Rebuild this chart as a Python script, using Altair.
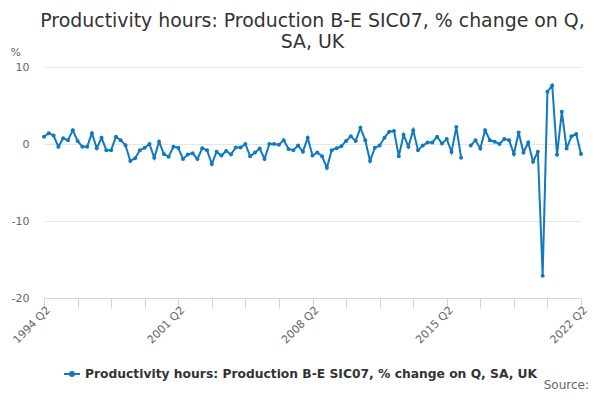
#%%
import pandas as pd
import altair as alt

#%%
# Quarterly % change, 1994 Q2 to 2022 Q2 (2016 Q2 missing in the source)
years = list(range(1994, 2023))
quarters = [f"{y} Q{q}" for y in years for q in (1, 2, 3, 4)]
quarters = quarters[quarters.index("1994 Q2"):quarters.index("2022 Q2") + 1]

values = [
    0.95, 1.4, 1.1, -0.35, 0.75, 0.5, 1.8, 0.4, -0.35, -0.35,
    1.4, -0.55, 0.8, -0.8, -0.8, 0.95, 0.5, -0.15, -2.2, -1.85,
    -0.8, -0.5, 0.0, -1.8, 0.3, -1.3, -1.65, -0.35, -0.5, -1.95,
    -1.35, -1.2, -1.95, -0.55, -0.8, -2.6, -1.0, -1.5, -0.9, -1.35,
    -0.45, -0.45, 0.0, -1.6, -1.1, -0.6, -1.95, 0.0, 0.0, -0.1,
    0.5, -0.65, -0.8, -0.2, -1.0, 0.8, -1.5, -1.1, -1.6, -3.1,
    -0.8, -0.55, -0.3, 0.4, 1.0, 0.4, 2.1, 0.5, -2.2, -0.5,
    -0.2, 0.8, 1.6, 1.7, -1.6, 1.2, -0.35, 1.8, -0.8, -0.2,
    0.2, 0.2, 0.95, 0.05, 0.65, -1.05, 2.2, -1.8, None, -0.2,
    0.5, -0.6, 1.8, 0.5, 0.3, 0.0, 0.65, 0.5, -1.3, 1.5,
    -1.1, 0.2, -2.3, -1.0, -17.1, 6.8, 7.6, -1.4, 4.2, -0.6,
    1.0, 1.3, -1.3,
]

series_name = "Productivity hours: Production B-E SIC07, % change on Q, SA, UK"
tick_quarters = quarters[::7]
label_quarters = quarters[::28]
y_ticks = [-20, -10, 0, 10]

df = pd.DataFrame({"quarter": quarters, "value": values, "series": series_name})

#%%
blue = "#1179c0"
label_test = " || ".join(f"datum.value == '{q}'" for q in label_quarters)

line = (alt.Chart(df)
    .mark_line(strokeWidth=2, point=alt.OverlayMarkDef(filled=True, size=16, color=blue))
    .encode(
        alt.X("quarter:O", sort=None,
            scale=alt.Scale(type="point", padding=0, domain=quarters),
            axis=alt.Axis(title=None, values=tick_quarters,
                labelExpr=f"({label_test}) ? datum.value : ''",
                labelAngle=-45, labelPadding=-4, labelColor="#666666", labelFontSize=11,
                tickSize=10, tickColor="#ccd6eb", domainColor="#ccd6eb", grid=False)),
        alt.Y("value:Q",
            scale=alt.Scale(domain=[-20, 10], nice=False, zero=False),
            axis=alt.Axis(title="%", values=y_ticks, titleAngle=0, titleX=-34, titleY=-15,
                titleAlign="left", titleBaseline="middle", titleFontWeight="normal",
                titleFontSize=11, titleColor="#666666",
                labelExpr="'' + datum.value",
                labelColor="#666666", labelFontSize=11, labelPadding=15,
                ticks=False, domain=False, gridColor="#e6e6e6")),
        alt.Color("series:N", scale=alt.Scale(range=[blue]),
            legend=alt.Legend(title=None, orient="none", legendX=19, legendY=298,
                symbolType="M-1,0L1,0M-0.25,0A0.25,0.25,0,1,1,0.25,0A0.25,0.25,0,1,1,-0.25,0",
                symbolSize=256, symbolStrokeWidth=2, symbolFillColor=blue,
                labelFontSize=12.3, labelFontWeight="bold", labelColor="#333333",
                labelLimit=600)))
)

source = (alt.Chart(df.head(1))
    .mark_text(text="Source:", align="right", baseline="middle", fontSize=12, color="#666666")
    .encode(x=alt.value(545), y=alt.value(318))
)

chart = (alt.layer(line, source)
    .properties(
        width=537, height=231,
        autosize=alt.AutoSizeParams(type="none"),
        padding={"left": 36, "top": 59, "right": 11, "bottom": 93},
        title=alt.TitleParams(
            ["Productivity hours: Production B-E SIC07, % change on Q,", "SA, UK"],
            anchor="middle", fontSize=18.9, fontWeight="normal", color="#333333",
            lineHeight=21, offset=-6))
    .configure(font="DejaVu Sans")
    .configure_view(stroke=None)
)

chart.save("out.html", embed_options={"renderer": "svg", "actions": False})
